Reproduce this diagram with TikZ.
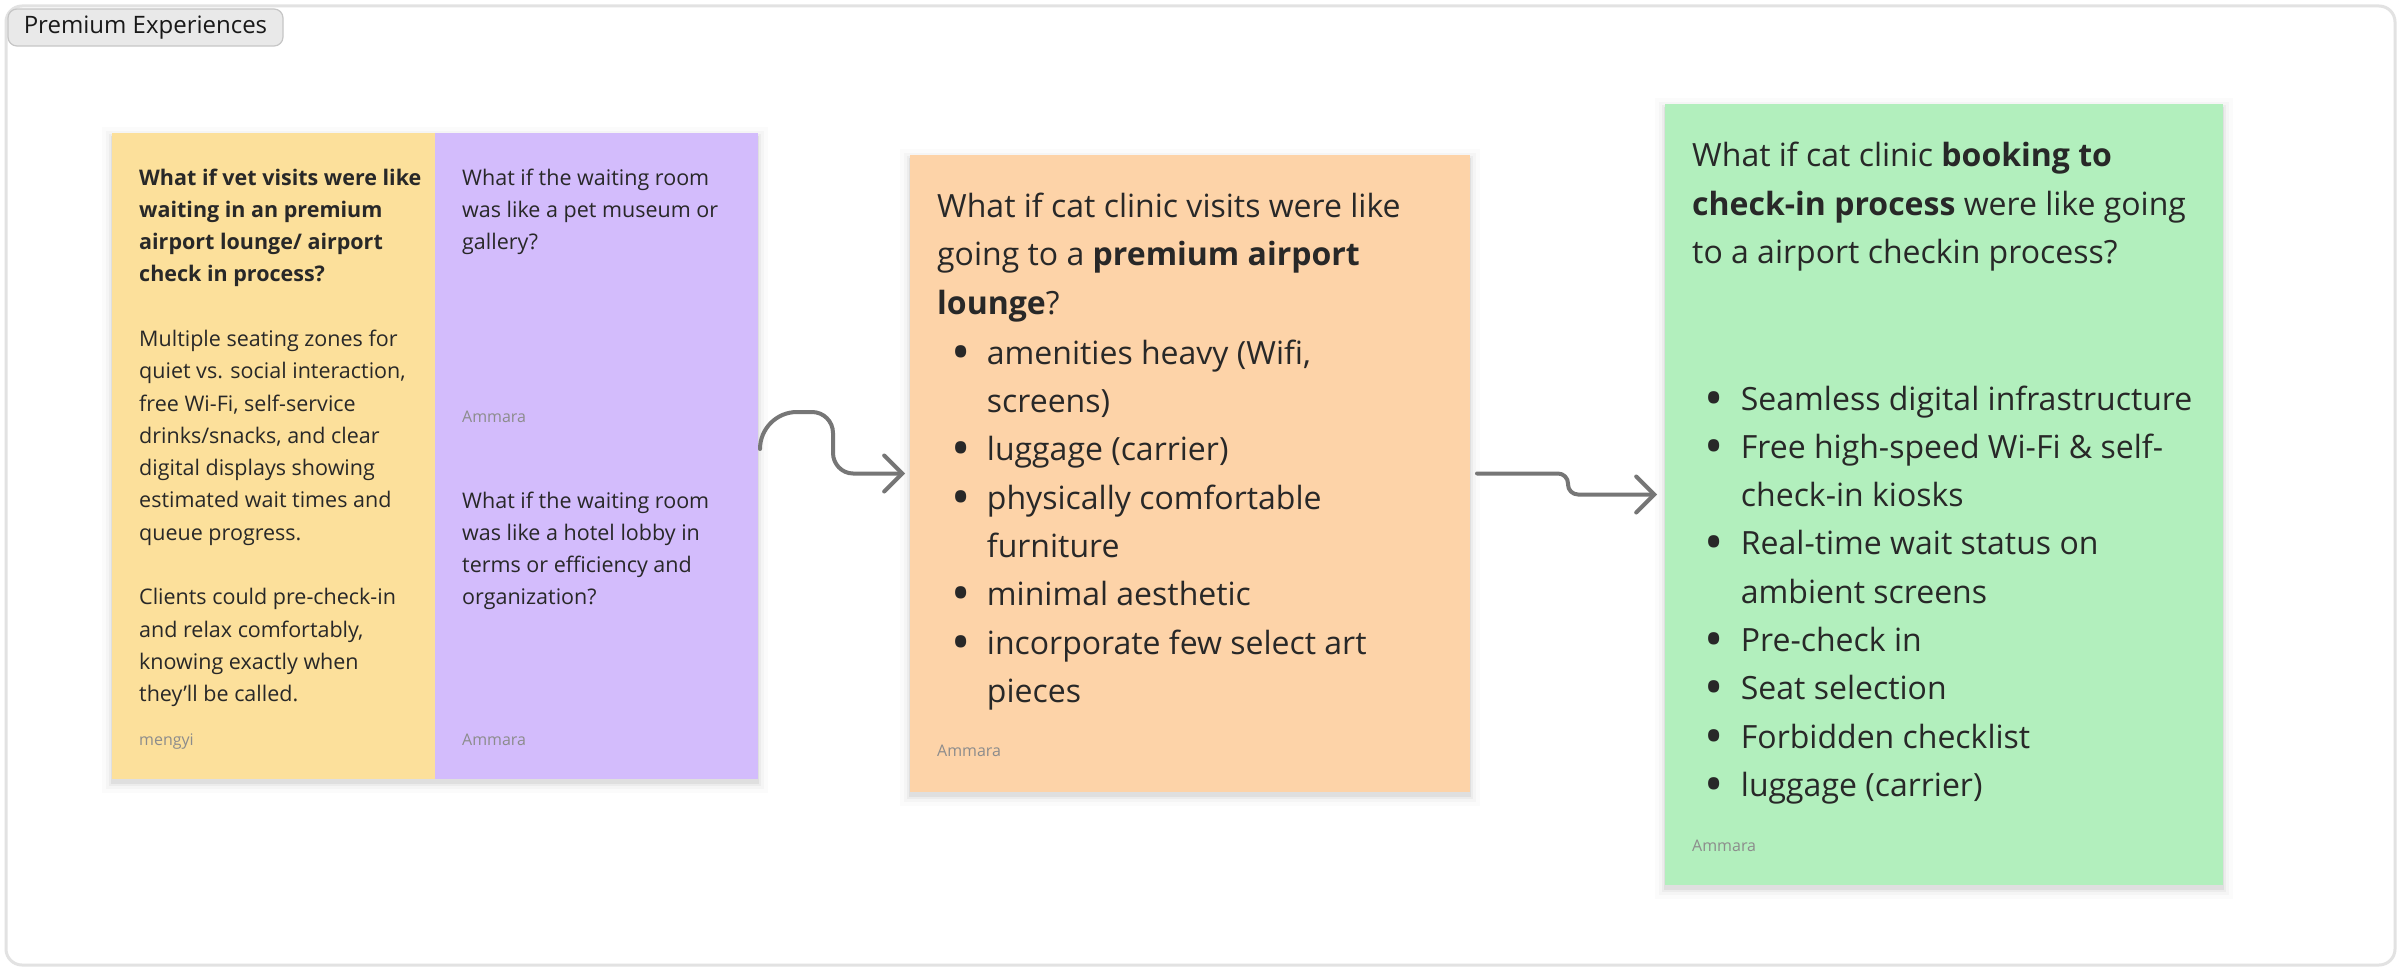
\documentclass[tikz,border=0pt]{standalone}
\usepackage{fontspec}
\usepackage{graphicx}
\setmainfont{Open Sans}
\usetikzlibrary{arrows.meta,backgrounds,calc}
\definecolor{ytone}{HTML}{FCE09B}
\definecolor{ptone}{HTML}{D3BCFC}
\definecolor{otone}{HTML}{FDD3A8}
\definecolor{gtone}{HTML}{B2EFBD}
\definecolor{ink}{HTML}{282828}
\definecolor{nametone}{HTML}{8C8C8C}
\definecolor{arrowtone}{HTML}{767676}
\definecolor{frametone}{HTML}{E2E2E2}
\definecolor{tagfill}{HTML}{E9E9E9}
\definecolor{tagdraw}{HTML}{C6C6C6}
\newcommand\softshade[2]{%
  \foreach \s/\o in {1/0.05,3/0.035,6/0.025,10/0.015}{%
    \fill[black,opacity=\o] ($(#1.north west)+(-\s,-\s+4)$) rectangle ($(#2.south east)+(\s,\s+4)$);}}
\newcommand\bigdot{\smash{\raisebox{-6pt}{\scalebox{1.6}{•}}}}
% #1 total width, #2 twice the dot centre offset
\newcommand\bulbox[2]{\makebox[#1][l]{\makebox[#2][c]{\bigdot}}}
\newcommand\obul{\bulbox{49.7pt}{47.4pt}}
\newcommand\obsp{\makebox[49.7pt]{}}
\newcommand\gbul{\bulbox{48.7pt}{44pt}}
\newcommand\gbsp{\makebox[48.7pt]{}}
\begin{document}
\begin{tikzpicture}[x=1pt,y=-1pt,
  sticky/.style={inner sep=0pt, outer sep=0pt, anchor=north west},
  txt/.style={anchor=base west, inner sep=0pt, text=ink},
  small/.style={txt, font=\fontsize{21.5}{32.3}\selectfont},
  big/.style={txt, font=\fontsize{32}{48.3}\selectfont},
  author/.style={anchor=base west, inner sep=0pt, text=nametone, font=\fontsize{16}{19}\selectfont},
  conn/.style={draw=arrowtone, line width=4pt, line cap=round, line join=round,
    -{Straight Barb[length=18pt,width=36pt,line cap=round]}},
]
\useasboundingbox (0,0) rectangle (2401,971);
\begin{scope}[on background layer]
  \fill[white] (0,0) rectangle (2401,971);
  \node[sticky, draw=frametone, fill=white, line width=3pt, rounded corners=16pt,
        minimum width=2389pt, minimum height=959pt] (frame) at (6,6) {};
\end{scope}

\node[sticky, draw=tagdraw, fill=tagfill, line width=1.2pt, rounded corners=9pt,
      minimum width=275pt, minimum height=37pt, font=\fontsize{24}{28}\selectfont, text=black!90]
      (tag) at (8,9) {Premium Experiences};

% stickies
\node[sticky, fill=ytone, minimum width=323pt, minimum height=646pt] (yel) at (112,133) {};
\node[sticky, fill=ptone, minimum width=323pt, minimum height=646pt] (pur) at (435,133) {};
\node[sticky, fill=otone, minimum width=560pt, minimum height=637pt] (ora) at (910,155) {};
\node[sticky, fill=gtone, minimum width=558pt, minimum height=781pt] (grn) at (1665,104) {};

\begin{scope}[on background layer]
  \softshade{yel}{pur}
  \softshade{ora}{ora}
  \softshade{grn}{grn}
\end{scope}

% yellow text
\node[small] (ytext) at (139,185) {\begin{tabular}[t]{@{}l@{}}
\textbf{What if vet visits were like}\\
\textbf{waiting in an premium}\\
\textbf{airport lounge/ airport}\\
\textbf{check in process?}\\
\\
Multiple seating zones for\\
quiet vs. social interaction,\\
free Wi-Fi, self-service\\
drinks/snacks, and clear\\
digital displays showing\\
estimated wait times and\\
queue progress.\\
\\
Clients could pre-check-in\\
and relax comfortably,\\
knowing exactly when\\
they’ll be called.
\end{tabular}};
\node[author] (yauth) at (139,745) {mengyi};

% purple text
\node[small] (ptext1) at (462,185) {\begin{tabular}[t]{@{}l@{}}
What if the waiting room\\
was like a pet museum or\\
gallery?
\end{tabular}};
\node[author] (pauth1) at (462,422) {Ammara};
\node[small] (ptext2) at (462,508) {\begin{tabular}[t]{@{}l@{}}
What if the waiting room\\
was like a hotel lobby in\\
terms or efficiency and\\
organization?
\end{tabular}};
\node[author] (pauth2) at (462,745) {Ammara};

% orange text
\node[big] (otitle) at (937,217.5) {\begin{tabular}[t]{@{}l@{}}
What if cat clinic visits were like\\
going to a \textbf{premium airport}\\
\textbf{lounge}?
\end{tabular}};
\node[big] (olist) at (937,364.3) {\begin{tabular}[t]{@{}l@{}}
\obul amenities heavy (Wifi,\\
\obsp screens)\\
\obul luggage (carrier)\\
\obul physically comfortable\\
\obsp furniture\\
\obul minimal aesthetic\\
\obul incorporate few select art\\
\obsp pieces
\end{tabular}};
\node[author] (oauth) at (937,756) {Ammara};

% green text
\node[big] (gtitle) at (1692,166.7) {\begin{tabular}[t]{@{}l@{}}
What if cat clinic \textbf{booking to}\\
\textbf{check-in process} were like going\\
to a airport checkin process?
\end{tabular}};
\node[big] (glist) at (1692,410) {\begin{tabular}[t]{@{}l@{}}
\gbul Seamless digital infrastructure\\
\gbul Free high-speed Wi-Fi \& self-\\
\gbsp check-in kiosks\\
\gbul Real-time wait status on\\
\gbsp ambient screens\\
\gbul Pre-check in\\
\gbul Seat selection\\
\gbul Forbidden checklist\\
\gbul luggage (carrier)
\end{tabular}};
\node[author] (gauth) at (1692,851) {Ammara};

% connectors
\draw[conn] ($(pur.east)+(2,-7)$) .. controls (760,428.6) and (776.6,412) .. (797,412)
  -- (812,412) .. controls (823.6,412) and (833,421.4) .. (833,433)
  -- (833,453) .. controls (833,464) and (842,473.5) .. (853,473.5)
  -- ($(ora.west)+(-5,0)$);
\draw[conn, rounded corners=10pt] ($(ora.east)+(7,0)$) -- (1568,473.5) -- (1568,494.5)
  -- ($(grn.west)+(-8,0)$);
\end{tikzpicture}
\end{document}
